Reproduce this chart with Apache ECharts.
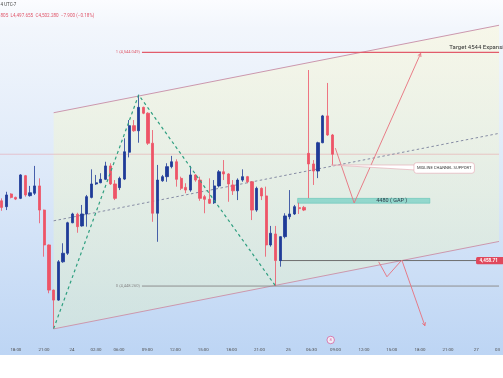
<!DOCTYPE html>
<html>
<head>
<meta charset="utf-8">
<title>XAUUSD 30m channel</title>
<script src="https://cdn.jsdelivr.net/npm/echarts@6.0.0/dist/echarts.min.js"></script>
<style>
html,body{margin:0;padding:0;background:#ffffff;overflow:hidden}
#chart{width:503px;height:378px}
</style>
</head>
<body>
<div id="chart"></div>
<script>
// ---------- DATA (30-minute bars, price in USD) ----------
const barIndex = [0,1,2,3,4,5,6,7,8,9,10,11,12,13,14,15,16,17,18,19,20,21,22,23,24,25,26,27,28,29,30,31,32,33,34,35,36,37,38,39,40,41,42,43,44,45,46,47,48,49,50,51,52,53,54,55,56,57,58,59,60,61,62,63,64,65,66,67,68,69,70];
const opens  = [4483.2,4480.8,4486.0,4484.6,4484.2,4493.5,4485.3,4486.3,4489.3,4479.4,4465.1,4446.6,4442.5,4458.2,4461.7,4474.2,4477.7,4472.9,4477.8,4484.6,4490.1,4490.6,4492.0,4497.5,4490.1,4488.6,4492.1,4503.1,4514.0,4511.9,4521.5,4519.1,4506.8,4478.1,4491.4,4493.1,4497.2,4499.2,4492.4,4488.7,4487.6,4493.8,4491.7,4484.9,4483.8,4482.4,4489.3,4495.1,4494.2,4489.7,4487.3,4491.7,4493.1,4491.0,4479.4,4488.3,4485.2,4465.1,4469.6,4458.71,4468.5,4476.7,4477.8,4480.4,4480.5,4502.65,4498.3,4495.4,4507.0,4518.0,4510.18];
const closes = [4480.5,4485.6,4484.6,4483.9,4493.8,4485.6,4486.5,4489.3,4479.4,4465.1,4446.6,4442.5,4458.2,4461.7,4474.2,4477.8,4472.6,4477.8,4484.9,4490.1,4490.6,4492.0,4497.5,4490.1,4484.2,4492.4,4503.3,4514.0,4511.9,4521.5,4519.1,4506.8,4478.1,4491.7,4493.1,4497.2,4499.2,4492.0,4488.3,4487.6,4493.8,4491.7,4484.2,4483.8,4482.2,4489.3,4495.1,4494.2,4490.1,4487.3,4491.7,4493.1,4491.0,4479.4,4488.3,4485.2,4465.1,4469.9,4458.71,4468.5,4477.0,4477.8,4480.8,4480.0,4479.4,4498.3,4495.4,4507.0,4518.0,4510.18,4502.28];
const lows   = [4479.1,4479.4,4484.2,4483.5,4483.9,4484.9,4484.9,4485.6,4474.0,4460.3,4445.3,4430.8,4442.2,4457.8,4461.0,4474.0,4470.1,4472.6,4472.6,4484.2,4489.7,4490.4,4491.7,4489.7,4483.5,4487.6,4491.7,4501.0,4511.5,4507.0,4518.7,4506.1,4474.6,4466.4,4491.0,4491.0,4496.5,4489.0,4487.6,4486.3,4486.9,4491.0,4483.2,4478.1,4481.9,4481.9,4488.7,4491.7,4482.8,4485.6,4483.5,4491.0,4490.4,4475.3,4478.7,4483.5,4460.3,4464.4,4448.26,4456.2,4467.8,4475.6,4477.4,4477.8,4479.0,4484.3,4489.7,4492.5,4506.8,4509.8,4497.655];
const highs  = [4484.2,4486.9,4486.3,4484.9,4494.1,4493.8,4489.3,4497.5,4492.4,4479.6,4465.3,4446.8,4458.9,4465.8,4474.6,4478.3,4478.3,4481.5,4485.6,4496.1,4493.8,4494.5,4499.2,4498.6,4491.7,4493.1,4508.8,4516.3,4516.3,4526.6,4521.8,4519.5,4512.2,4497.9,4493.8,4498.6,4501.6,4500.2,4493.1,4490.4,4497.5,4494.1,4493.1,4485.6,4492.4,4491.7,4495.8,4499.9,4494.5,4491.7,4492.4,4496.1,4493.4,4491.3,4489.0,4488.7,4489.0,4472.9,4472.9,4468.7,4478.1,4487.6,4481.5,4482.4,4481.1,4536.8,4499.9,4507.4,4518.4,4531.5,4510.6];

// time-axis tick labels (positions in bar units)
const tickPositions = [3.0,8.95,14.9,19.96,24.85,30.8,36.76,42.7,48.66,54.6,60.7,65.6,70.7,76.7,82.6,88.6,94.5,100.5,105.0];
const tickLabels = ['18:00','21:00','24','02:30','06:00','09:00','12:00','15:00','18:00','21:00','25','06:30','09:00','12:00','15:00','18:00','21:00','27','03'];

// parallel channel (anchor bar, end bar) and its lower/upper/mid prices
const channelX     = [11, 105.32];
const channelLower = [4430.7, 4466.54];
const channelUpper = [4519.3, 4555.14];
const channelMid   = [4475.0, 4510.84];

// swing zig-zag
const zigX = [11, 29, 58];
const zigY = [4430.8, 4526.6, 4448.26];

// levels
const lastClose = 4502.28;
const fibStart = 29.7;
const fibLevels = [4544.049, 4448.260];
const fibLabels = ['1 (4,544.049)', '0 (4,448.260)'];
const levelStart = 58.8;
const levelPrice = 4458.71;
const levelTag = '4,458.71';

// gap zone
const gapX = [62.67, 90.67];
const gapY = [4482.2, 4484.2];
const gapLabel = '4480 ( GAP )';
const gapLabelAt = [82.6, 4483.2];

// target text
const targetText = 'Target 4544 Expansion';
const targetAt = [94.8, 4544.049];

// projected paths
const path1X = [70.65, 74.64, 88.72];
const path1Y = [4504.8, 4482.3, 4543.6];
const path2X = [79.83, 81.58, 84.73, 89.62];
const path2Y = [4458.2, 4452.07, 4458.92, 4431.99];

// callout: tip, box top-left, box bottom-right
const calloutText = 'MIDLINE CHANNEL SUPPORT';
const calloutTip = [69.8, 4497.9];
const calloutBox = [87.3, 4498.8, 100.1, 4494.5];

// event marker
const eventAt = [69.67, 4426.15];
const eventText = '8';

const xMin = -0.36, xMax = 105.32;
const yMin = 4420, yMax = 4565.5;

// ---------- CHART ----------
const FONT = 'Roboto, "Noto Sans", sans-serif';
const UP = '#1f3b98', DOWN = '#ee5467';
const chart = echarts.init(document.getElementById('chart'), null, {renderer: 'canvas', width: 503, height: 378});

const candleData = barIndex.map((x, k) => [x, opens[k], closes[k], lows[k], highs[k]]);

function seg(xs, ys, style, z) {
  return {type: 'line', data: xs.map((x, k) => [x, ys[k]]), showSymbol: false, symbol: 'none',
    silent: true, animation: false, lineStyle: style, z: z || 3};
}

const paths = [[path1X, path1Y], [path2X, path2Y]];

const annoText = [fibLabels[0], fibLabels[1], targetText, gapLabel];
const annoPos = [[fibStart, fibLevels[0]], [fibStart, fibLevels[1]], targetAt, gapLabelAt];
const annoStyle = [
  {align: 'right', dx: -2, dy: 0, size: 4.1, color: '#e05a6a'},
  {align: 'right', dx: -2, dy: 0, size: 4.1, color: '#8a8a8a'},
  {align: 'left', dx: 0, dy: -4.8, size: 6, color: '#333333'},
  {align: 'center', dx: 0, dy: 0, size: 5.5, color: '#2d3b48'}
];

const option = {
  animation: false,
  backgroundColor: '#ffffff',
  graphic: [
    {type: 'rect', z: -10, silent: true, shape: {x: 0, y: 0, width: 503, height: 355},
      style: {fill: new echarts.graphic.LinearGradient(0, 0, 0, 1, [
        {offset: 0, color: '#fbfcff'}, {offset: 0.08, color: '#f2f6fc'},
        {offset: 0.55, color: '#dae7f8'}, {offset: 1, color: '#bdd5f4'}])}},
    {type: 'text', z: 50, x: 0.5, y: 5, style: {text: '4 UTC-7', fontSize: 4.5, fontFamily: FONT, fill: '#444', verticalAlign: 'middle'}},
    {type: 'text', z: 50, x: 0.5, y: 15.7, style: {text: '805  L4,497.655  C4,502.280  \u22127.900 (\u22120.18%)', fontSize: 4.6, fontFamily: FONT, fill: '#e0566a', verticalAlign: 'middle'}}
  ],
  grid: {left: 0, right: 0, top: 0, bottom: 23},
  xAxis: {
    type: 'value', min: xMin, max: xMax,
    axisLine: {show: false}, axisTick: {show: false}, splitLine: {show: false},
    axisLabel: {
      customValues: tickPositions, inside: true, margin: 3,
      fontSize: 4.4, color: '#4d4d4d', fontFamily: FONT,
      formatter: function (v) {
        let best = 0, d = Infinity;
        tickPositions.forEach((t, k) => { if (Math.abs(t - v) < d) { d = Math.abs(t - v); best = k; } });
        return tickLabels[best];
      }
    }
  },
  yAxis: {type: 'value', min: yMin, max: yMax, show: false, splitLine: {show: false}},
  series: [
    // channel fill
    {type: 'custom', z: 1, silent: true,
      data: [[channelX[0], channelLower[0], channelX[1], channelLower[1], channelUpper[1], channelUpper[0]]],
      renderItem: function (params, api) {
        const pts = [
          api.coord([api.value(0), api.value(1)]),
          api.coord([api.value(2), api.value(3)]),
          api.coord([api.value(2), api.value(4)]),
          api.coord([api.value(0), api.value(5)])
        ];
        return {type: 'polygon', shape: {points: pts},
          style: {fill: new echarts.graphic.LinearGradient(0, 0, 0, 1, [
            {offset: 0, color: 'rgba(250,247,220,0.58)'}, {offset: 1, color: 'rgba(225,240,200,0.42)'}])}};
      }},
    seg([xMin, xMax], [lastClose, lastClose], {color: 'rgba(232,140,152,0.55)', width: 0.8}, 2),
    seg(channelX, channelUpper, {color: '#cc98ae', width: 1}, 2),
    seg(channelX, channelLower, {color: '#cc98ae', width: 1}, 2),
    seg(channelX, channelMid, {color: '#868ca4', width: 1, type: [2.5, 2.5]}, 2),
    seg([fibStart, xMax], [fibLevels[0], fibLevels[0]], {color: '#e25c6b', width: 1.1}, 2),
    seg([fibStart, xMax], [fibLevels[1], fibLevels[1]], {color: '#8e8e8e', width: 1}, 2),
    seg([levelStart, xMax], [levelPrice, levelPrice], {color: '#6e6e6e', width: 1}, 2),
    // gap zone
    {type: 'custom', z: 3, silent: true,
      data: [[gapX[0], gapY[1], gapX[1], gapY[0]]],
      renderItem: function (params, api) {
        const a = api.coord([api.value(0), api.value(1)]);
        const b = api.coord([api.value(2), api.value(3)]);
        return {type: 'rect', shape: {x: a[0], y: a[1], width: b[0] - a[0], height: b[1] - a[1]},
          style: {fill: 'rgba(120,208,196,0.75)', stroke: 'rgba(95,195,180,0.9)', lineWidth: 0.6}};
      }},
    // candles
    {type: 'candlestick', z: 5, data: candleData, barWidth: 2.7, silent: true,
      itemStyle: {color: UP, color0: DOWN, borderColor: UP, borderColor0: DOWN, borderColorDoji: DOWN, borderWidth: 0.8}},
    // zig-zag
    seg(zigX, zigY, {color: '#2f9f80', width: 1.2, type: [3, 3]}, 6),
    // projected paths with arrowheads
    {type: 'custom', z: 7, silent: true,
      data: [[path1X[path1X.length - 1], path1Y[path1Y.length - 1]], [path2X[path2X.length - 1], path2Y[path2Y.length - 1]]],
      renderItem: function (params, api) {
        const pr = paths[params.dataIndex];
        const pts = pr[0].map((x, k) => api.coord([x, pr[1][k]]));
        const n = pts.length;
        const tip = pts[n - 1], prev = pts[n - 2];
        let dx = tip[0] - prev[0], dy = tip[1] - prev[1];
        const len = Math.sqrt(dx * dx + dy * dy); dx /= len; dy /= len;
        const L = 3.6, ang = 0.5;
        const rot = (a) => [tip[0] - L * (dx * Math.cos(a) - dy * Math.sin(a)), tip[1] - L * (dx * Math.sin(a) + dy * Math.cos(a))];
        return {type: 'group', children: [
          {type: 'polyline', shape: {points: pts}, style: {stroke: '#e8707d', lineWidth: 0.9, fill: null}},
          {type: 'polyline', shape: {points: [rot(ang), tip, rot(-ang)]}, style: {stroke: '#e8707d', lineWidth: 0.9, fill: null}}
        ]};
      }},
    // callout
    {type: 'custom', z: 8, silent: true,
      data: [[calloutTip[0], calloutTip[1], calloutBox[0], calloutBox[1], calloutBox[2], calloutBox[3]]],
      renderItem: function (params, api) {
        const tip = api.coord([api.value(0), api.value(1)]);
        const tl = api.coord([api.value(2), api.value(3)]);
        const br = api.coord([api.value(4), api.value(5)]);
        const h = br[1] - tl[1];
        return {type: 'group', children: [
          {type: 'polygon', shape: {points: [tip, [tl[0] + 1, tl[1] + h * 0.22], [tl[0] + 1, tl[1] + h * 0.69]]},
            style: {fill: '#ffffff', stroke: '#e2a4ae', lineWidth: 0.6}},
          {type: 'rect', shape: {x: tl[0], y: tl[1], width: br[0] - tl[0], height: h, r: 2.5},
            style: {fill: '#ffffff', stroke: '#e2a4ae', lineWidth: 0.6}},
          {type: 'text', x: (tl[0] + br[0]) / 2, y: (tl[1] + br[1]) / 2,
            style: {text: calloutText, fontSize: 4.1, fontFamily: FONT, fill: '#3a3a3a', align: 'center', verticalAlign: 'middle'}}
        ]};
      }},
    // price tag
    {type: 'custom', z: 9, silent: true,
      data: [[xMax, levelPrice]],
      renderItem: function (params, api) {
        const p = api.coord([api.value(0), api.value(1)]);
        return {type: 'group', children: [
          {type: 'rect', shape: {x: p[0] - 23, y: p[1] - 3.6, width: 28, height: 7.2, r: 1.5}, style: {fill: '#e0485c'}},
          {type: 'text', x: p[0] - 19.5, y: p[1], style: {text: levelTag, fontSize: 4.6, fontWeight: 'bold', fontFamily: FONT, fill: '#ffffff', align: 'left', verticalAlign: 'middle'}}
        ]};
      }},
    // text annotations
    {type: 'custom', z: 10, silent: true,
      data: annoPos.map(p => [p[0], p[1]]),
      renderItem: function (params, api) {
        const k = params.dataIndex, st = annoStyle[k];
        const p = api.coord([api.value(0), api.value(1)]);
        return {type: 'text', x: p[0] + st.dx, y: p[1] + st.dy,
          style: {text: annoText[k], fontSize: st.size, fontFamily: FONT, fill: st.color, align: st.align, verticalAlign: 'middle'}};
      }},
    // event marker
    {type: 'scatter', z: 10, silent: true, data: [eventAt], symbol: 'circle', symbolSize: 7.5,
      itemStyle: {color: '#fdf2f8', borderColor: '#d2438a', borderWidth: 0.8},
      label: {show: true, position: 'inside', formatter: eventText, fontSize: 4, color: '#d2438a', fontFamily: FONT}}
  ]
};
chart.setOption(option);
</script>
</body>
</html>
